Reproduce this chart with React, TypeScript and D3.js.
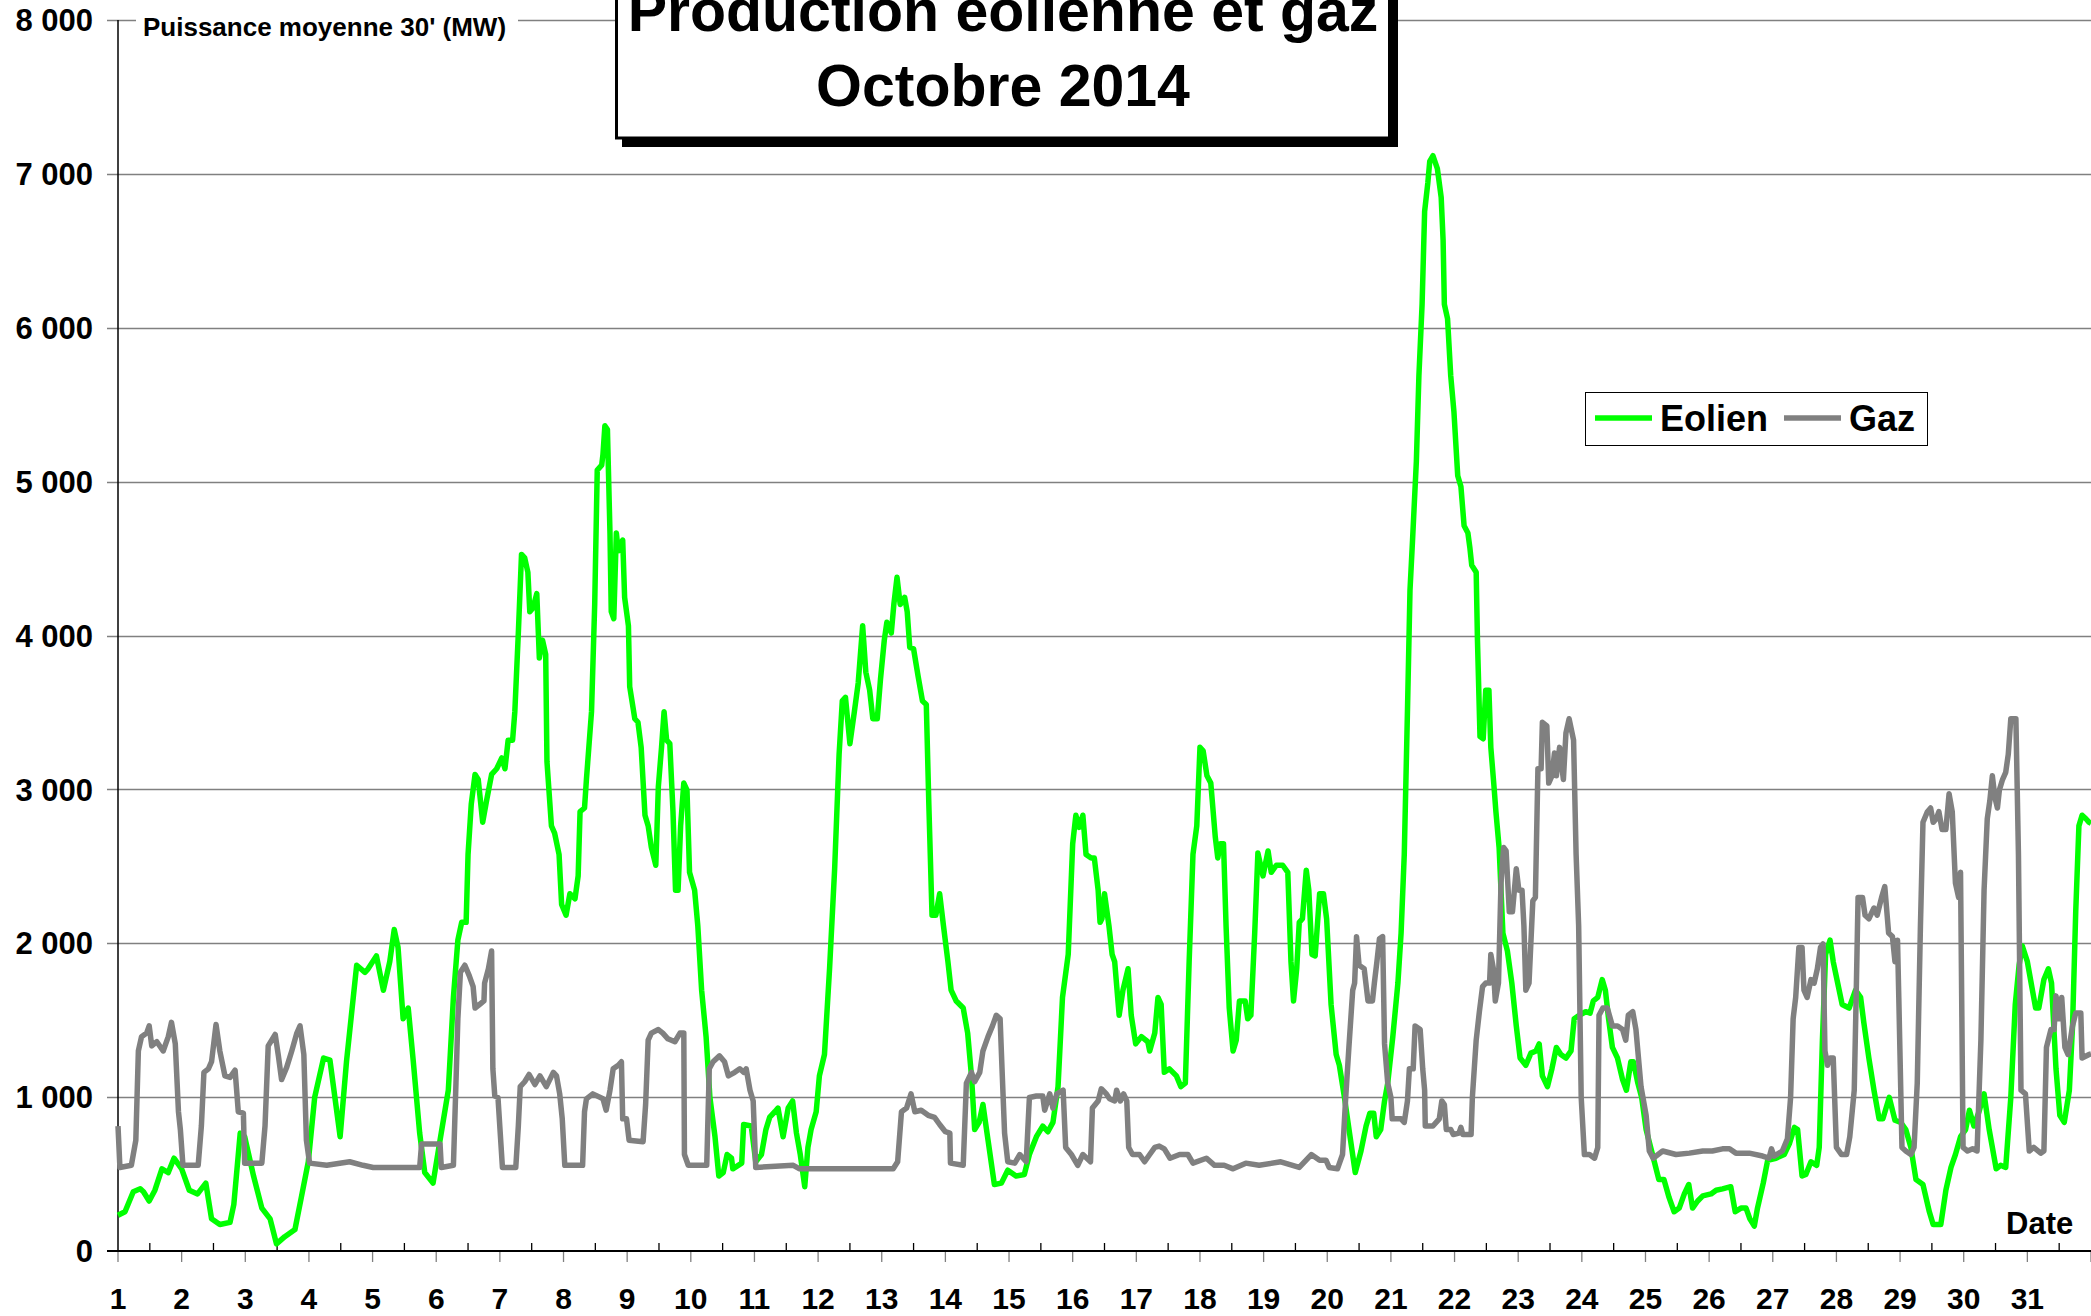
import React, { useEffect, useRef } from "react";
import * as d3 from "d3";

// time = days since 1 Oct 2014 00:00, value = MW (30' average)
const eolien: [number, number][] = [
  [0, 232], [0.11, 255], [0.24, 385], [0.35, 404], [0.4, 385], [0.49, 325], [0.58, 395], [0.69, 534], [0.79, 510], [0.88, 603],
  [1.0, 534], [1.12, 395], [1.25, 371], [1.38, 441], [1.47, 209], [1.6, 172], [1.76, 186], [1.82, 302], [1.92, 766], [1.99, 743],
  [2.13, 487], [2.26, 279], [2.39, 209], [2.49, 46], [2.62, 93], [2.78, 139], [2.88, 348], [2.99, 580], [3.09, 998], [3.23, 1254],
  [3.33, 1240], [3.49, 743], [3.59, 1230], [3.75, 1857], [3.88, 1811], [3.93, 1834], [4.06, 1918], [4.17, 1695], [4.27, 1880], [4.34, 2089],
  [4.4, 1973], [4.48, 1509], [4.56, 1579], [4.64, 1230], [4.74, 766], [4.82, 510], [4.95, 441], [5.06, 720], [5.19, 1045], [5.27, 1648],
  [5.34, 2020], [5.4, 2136], [5.47, 2136], [5.5, 2577], [5.55, 2902], [5.61, 3097], [5.66, 3064], [5.73, 2786], [5.79, 2925], [5.87, 3097],
  [5.95, 3134], [6.03, 3204], [6.08, 3134], [6.13, 3320], [6.2, 3320], [6.235, 3505], [6.29, 4016], [6.34, 4527], [6.39, 4504], [6.44, 4411],
  [6.47, 4155], [6.52, 4179], [6.58, 4272], [6.62, 3854], [6.67, 3970], [6.72, 3877], [6.74, 3180], [6.81, 2763], [6.86, 2716], [6.93, 2577],
  [6.97, 2252], [7.04, 2182], [7.1, 2322], [7.18, 2289], [7.23, 2438], [7.26, 2855], [7.33, 2879], [7.36, 3064], [7.44, 3505], [7.49, 4202],
  [7.53, 5075], [7.6, 5107], [7.62, 5177], [7.65, 5363], [7.69, 5339], [7.73, 4666], [7.75, 4155], [7.79, 4109], [7.83, 4666], [7.86, 4550],
  [7.93, 4620], [7.96, 4248], [8.02, 4063], [8.04, 3668], [8.12, 3459], [8.17, 3436], [8.22, 3273], [8.28, 2832], [8.33, 2763], [8.38, 2623],
  [8.45, 2507], [8.49, 3018], [8.54, 3273], [8.58, 3505], [8.62, 3320], [8.67, 3297], [8.72, 2855], [8.76, 2345], [8.8, 2345], [8.84, 2763],
  [8.89, 3041], [8.94, 2995], [8.98, 2461], [9.06, 2345], [9.11, 2113], [9.17, 1695], [9.24, 1393], [9.3, 998], [9.38, 743], [9.44, 487],
  [9.51, 510], [9.57, 627], [9.64, 603], [9.66, 534], [9.8, 571], [9.83, 822], [9.95, 812], [10.02, 580], [10.11, 627], [10.18, 789],
  [10.24, 870], [10.32, 905], [10.37, 929], [10.45, 743], [10.53, 929], [10.6, 975], [10.66, 766], [10.72, 627], [10.79, 418], [10.84, 673],
  [10.89, 789], [10.97, 905], [11.02, 1138], [11.1, 1277], [11.18, 1834], [11.26, 2484], [11.33, 3227], [11.38, 3575], [11.43, 3598], [11.5, 3297],
  [11.57, 3505], [11.63, 3691], [11.7, 4063], [11.75, 3761], [11.81, 3645], [11.86, 3459], [11.93, 3459], [11.98, 3714], [12.04, 3970], [12.08, 4086],
  [12.15, 4016], [12.19, 4202], [12.24, 4378], [12.29, 4202], [12.36, 4248], [12.4, 4155], [12.44, 3923], [12.5, 3914], [12.57, 3738], [12.64, 3575],
  [12.7, 3552], [12.74, 2902], [12.79, 2182], [12.85, 2182], [12.91, 2322], [12.97, 2113], [13.04, 1880], [13.09, 1695], [13.17, 1625], [13.28, 1579],
  [13.35, 1416], [13.41, 1138], [13.46, 789], [13.53, 836], [13.59, 952], [13.67, 720], [13.77, 432], [13.88, 441], [13.98, 525], [14.11, 487],
  [14.24, 497], [14.32, 627], [14.43, 743], [14.53, 812], [14.61, 775], [14.69, 836], [14.77, 1068], [14.84, 1648], [14.93, 1927], [15.0, 2646],
  [15.05, 2832], [15.1, 2753], [15.16, 2832], [15.21, 2577], [15.29, 2554], [15.34, 2554], [15.4, 2345], [15.43, 2136], [15.46, 2159], [15.5, 2322],
  [15.57, 2113], [15.62, 1927], [15.66, 1880], [15.73, 1532], [15.79, 1695], [15.87, 1834], [15.92, 1532], [15.99, 1346], [16.08, 1393], [16.18, 1360],
  [16.21, 1300], [16.29, 1416], [16.34, 1648], [16.39, 1602], [16.44, 1161], [16.52, 1184], [16.63, 1138], [16.7, 1068], [16.77, 1091], [16.83, 1880],
  [16.89, 2577], [16.95, 2763], [17.0, 3273], [17.05, 3250], [17.11, 3088], [17.17, 3041], [17.24, 2693], [17.28, 2554], [17.32, 2646], [17.37, 2646],
  [17.41, 2113], [17.46, 1579], [17.52, 1300], [17.57, 1370], [17.62, 1625], [17.71, 1625], [17.75, 1509], [17.8, 1532], [17.86, 2066], [17.91, 2586],
  [17.99, 2438], [18.07, 2600], [18.12, 2461], [18.2, 2507], [18.3, 2507], [18.38, 2461], [18.43, 1880], [18.47, 1625], [18.52, 1834], [18.56, 2136],
  [18.61, 2159], [18.67, 2475], [18.71, 2345], [18.76, 1927], [18.81, 1918], [18.88, 2322], [18.94, 2322], [18.99, 2159], [19.06, 1602], [19.14, 1277],
  [19.19, 1207], [19.27, 998], [19.35, 766], [19.44, 510], [19.53, 650], [19.61, 812], [19.67, 896], [19.73, 896], [19.77, 743], [19.84, 789],
  [19.9, 975], [19.95, 1091], [20.03, 1393], [20.11, 1741], [20.16, 2066], [20.21, 2577], [20.26, 3505], [20.3, 4295], [20.34, 4620], [20.4, 5131],
  [20.44, 5688], [20.49, 6152], [20.53, 6756], [20.58, 6941], [20.61, 7081], [20.66, 7118], [20.73, 7034], [20.79, 6848], [20.82, 6570], [20.84, 6152],
  [20.89, 6059], [20.94, 5688], [20.99, 5456], [21.05, 5038], [21.1, 4968], [21.15, 4713], [21.21, 4666], [21.24, 4573], [21.27, 4457], [21.34, 4411],
  [21.36, 3970], [21.4, 3343], [21.45, 3329], [21.49, 3645], [21.54, 3645], [21.57, 3273], [21.62, 3018], [21.65, 2855], [21.7, 2623], [21.76, 2066],
  [21.83, 1950], [21.9, 1741], [21.97, 1463], [22.03, 1254], [22.12, 1207], [22.2, 1286], [22.28, 1300], [22.33, 1346], [22.38, 1138], [22.46, 1068],
  [22.53, 1184], [22.6, 1323], [22.67, 1277], [22.75, 1254], [22.83, 1300], [22.88, 1509], [22.96, 1532], [23.06, 1555], [23.13, 1546], [23.18, 1625],
  [23.25, 1648], [23.32, 1764], [23.37, 1695], [23.42, 1509], [23.48, 1323], [23.56, 1254], [23.64, 1114], [23.7, 1045], [23.77, 1230], [23.81, 1230],
  [23.88, 1091], [23.94, 998], [24.01, 789], [24.11, 627], [24.21, 464], [24.29, 464], [24.37, 348], [24.45, 255], [24.53, 279], [24.61, 371],
  [24.68, 432], [24.74, 279], [24.82, 325], [24.9, 358], [25.03, 371], [25.11, 395], [25.21, 404], [25.34, 418], [25.41, 255], [25.5, 279],
  [25.58, 279], [25.64, 209], [25.71, 162], [25.76, 279], [25.85, 441], [25.92, 590], [26.05, 603], [26.18, 627], [26.26, 696], [26.34, 803],
  [26.39, 789], [26.46, 487], [26.52, 497], [26.6, 580], [26.69, 557], [26.73, 673], [26.78, 1370], [26.83, 1927], [26.9, 2020], [26.95, 1880],
  [27.02, 1741], [27.09, 1602], [27.2, 1579], [27.3, 1695], [27.38, 1648], [27.43, 1486], [27.51, 1254], [27.59, 1045], [27.67, 859], [27.73, 859],
  [27.83, 998], [27.92, 850], [28.01, 836], [28.09, 789], [28.17, 673], [28.25, 464], [28.36, 432], [28.46, 255], [28.52, 172], [28.64, 172],
  [28.72, 395], [28.8, 543], [28.87, 627], [28.95, 743], [29.03, 789], [29.09, 915], [29.16, 812], [29.24, 905], [29.32, 1021], [29.4, 789],
  [29.51, 534], [29.58, 557], [29.66, 543], [29.74, 998], [29.81, 1602], [29.87, 1857], [29.92, 1983], [30.0, 1880], [30.07, 1718], [30.13, 1579],
  [30.18, 1579], [30.26, 1764], [30.33, 1834], [30.38, 1741], [30.45, 1184], [30.51, 882], [30.58, 836], [30.66, 1045], [30.71, 1463], [30.76, 2205],
  [30.81, 2763], [30.86, 2832], [30.92, 2809], [30.97, 2786], [31.0, 2780],
];

const gaz: [number, number][] = [
  [0, 812], [0.03, 543], [0.21, 557], [0.28, 720], [0.32, 1300], [0.37, 1393], [0.45, 1416], [0.49, 1463], [0.53, 1333], [0.61, 1360],
  [0.71, 1300], [0.79, 1393], [0.84, 1486], [0.9, 1347], [0.95, 905], [0.98, 789], [1.02, 557], [1.26, 557], [1.31, 812], [1.35, 1161],
  [1.42, 1184], [1.47, 1230], [1.54, 1472], [1.6, 1300], [1.68, 1138], [1.76, 1128], [1.84, 1175], [1.89, 905], [1.97, 896], [1.99, 571],
  [2.26, 571], [2.31, 812], [2.36, 1333], [2.47, 1407], [2.52, 1268], [2.57, 1114], [2.65, 1193], [2.73, 1300], [2.81, 1416], [2.86, 1463],
  [2.92, 1277], [2.96, 720], [3.01, 571], [3.28, 557], [3.64, 580], [3.85, 557], [4.01, 543], [4.74, 543], [4.77, 696], [5.06, 696],
  [5.08, 543], [5.27, 557], [5.31, 1091], [5.34, 1509], [5.38, 1811], [5.45, 1857], [5.52, 1788], [5.58, 1718], [5.61, 1579], [5.68, 1602],
  [5.75, 1625], [5.76, 1741], [5.82, 1834], [5.87, 1950], [5.89, 1184], [5.92, 1007], [5.97, 998], [6.04, 543], [6.25, 543], [6.29, 812],
  [6.32, 1068], [6.39, 1100], [6.46, 1147], [6.55, 1082], [6.63, 1138], [6.73, 1068], [6.84, 1161], [6.89, 1138], [6.94, 1021], [6.98, 859],
  [7.02, 557], [7.3, 557], [7.33, 905], [7.36, 989], [7.46, 1021], [7.62, 989], [7.67, 915], [7.73, 1045], [7.78, 1184], [7.86, 1207],
  [7.91, 1230], [7.93, 859], [7.99, 859], [8.03, 720], [8.25, 710], [8.29, 952], [8.33, 1370], [8.38, 1416], [8.49, 1439], [8.56, 1416],
  [8.64, 1379], [8.75, 1360], [8.83, 1416], [8.89, 1416], [8.9, 627], [8.96, 557], [9.25, 557], [9.29, 1184], [9.35, 1230], [9.45, 1268],
  [9.53, 1230], [9.59, 1138], [9.69, 1161], [9.77, 1184], [9.83, 1161], [9.87, 1184], [9.93, 1045], [9.98, 975], [10.02, 543], [10.61, 557],
  [10.71, 534], [12.18, 534], [12.25, 580], [12.31, 905], [12.39, 929], [12.46, 1021], [12.52, 905], [12.62, 915], [12.73, 882], [12.83, 868],
  [12.91, 822], [13.0, 775], [13.07, 766], [13.08, 571], [13.28, 557], [13.33, 1091], [13.41, 1161], [13.46, 1100], [13.54, 1161], [13.59, 1300],
  [13.67, 1393], [13.74, 1463], [13.8, 1532], [13.86, 1509], [13.89, 1184], [13.93, 766], [13.98, 580], [14.09, 571], [14.17, 627], [14.27, 580],
  [14.32, 998], [14.43, 1007], [14.53, 1007], [14.56, 915], [14.64, 1021], [14.69, 929], [14.75, 1021], [14.85, 1045], [14.89, 673], [14.98, 627],
  [15.08, 557], [15.16, 627], [15.28, 580], [15.31, 929], [15.4, 975], [15.45, 1054], [15.53, 1021], [15.58, 989], [15.66, 975], [15.69, 1045],
  [15.75, 975], [15.8, 1021], [15.85, 975], [15.88, 673], [15.94, 627], [16.05, 627], [16.13, 580], [16.21, 627], [16.29, 673], [16.36, 682],
  [16.44, 664], [16.53, 603], [16.68, 627], [16.81, 627], [16.89, 571], [17.1, 603], [17.23, 557], [17.38, 557], [17.52, 534], [17.72, 571],
  [17.93, 557], [18.27, 580], [18.56, 543], [18.75, 627], [18.88, 590], [18.98, 590], [19.03, 543], [19.16, 534], [19.24, 627], [19.29, 998],
  [19.34, 1323], [19.4, 1695], [19.43, 1741], [19.46, 2043], [19.5, 1857], [19.58, 1834], [19.64, 1625], [19.71, 1625], [19.74, 1741], [19.78, 1880],
  [19.82, 2029], [19.87, 2043], [19.9, 1346], [19.95, 1091], [20.0, 998], [20.02, 859], [20.16, 859], [20.21, 836], [20.26, 975], [20.29, 1184],
  [20.35, 1184], [20.38, 1463], [20.46, 1439], [20.5, 1184], [20.53, 1045], [20.54, 812], [20.66, 812], [20.76, 859], [20.8, 975], [20.84, 952],
  [20.87, 789], [20.94, 789], [20.98, 757], [21.07, 766], [21.1, 803], [21.13, 757], [21.26, 757], [21.28, 998], [21.34, 1370], [21.39, 1555],
  [21.44, 1718], [21.49, 1741], [21.55, 1741], [21.57, 1927], [21.61, 1834], [21.64, 1625], [21.69, 1741], [21.73, 2391], [21.77, 2623], [21.81, 2600],
  [21.86, 2205], [21.91, 2205], [21.97, 2484], [22.01, 2345], [22.06, 2345], [22.09, 2113], [22.12, 1695], [22.17, 1741], [22.23, 2275], [22.27, 2298],
  [22.31, 3134], [22.36, 3134], [22.38, 3436], [22.45, 3413], [22.48, 3041], [22.53, 3088], [22.57, 3236], [22.6, 3088], [22.65, 3273], [22.71, 3064],
  [22.75, 3366], [22.8, 3459], [22.87, 3320], [22.91, 2577], [22.95, 2113], [22.99, 998], [23.04, 627], [23.12, 627], [23.2, 603], [23.25, 673],
  [23.27, 1532], [23.33, 1579], [23.4, 1579], [23.48, 1463], [23.56, 1463], [23.64, 1439], [23.69, 1370], [23.73, 1532], [23.8, 1555], [23.85, 1439],
  [23.93, 1068], [24.01, 882], [24.06, 650], [24.12, 603], [24.27, 650], [24.48, 627], [24.69, 636], [24.9, 650], [25.05, 650], [25.21, 664],
  [25.32, 664], [25.42, 636], [25.63, 636], [25.84, 617], [25.94, 603], [25.98, 664], [26.02, 617], [26.15, 650], [26.23, 729], [26.28, 998],
  [26.32, 1509], [26.36, 1648], [26.41, 1973], [26.46, 1973], [26.49, 1695], [26.54, 1648], [26.6, 1764], [26.65, 1741], [26.7, 1834], [26.75, 1973],
  [26.79, 1996], [26.82, 1300], [26.86, 1207], [26.9, 1254], [26.95, 1254], [27.0, 673], [27.08, 627], [27.16, 627], [27.21, 743], [27.28, 1045],
  [27.31, 1648], [27.34, 2298], [27.41, 2298], [27.45, 2182], [27.51, 2159], [27.59, 2229], [27.64, 2182], [27.71, 2298], [27.76, 2368], [27.82, 2066],
  [27.88, 2043], [27.92, 1880], [27.96, 2020], [27.98, 1648], [28.03, 673], [28.09, 650], [28.17, 627], [28.22, 673], [28.27, 1091], [28.32, 2113],
  [28.36, 2786], [28.43, 2855], [28.48, 2879], [28.52, 2786], [28.57, 2809], [28.61, 2855], [28.66, 2739], [28.72, 2739], [28.77, 2972], [28.82, 2855],
  [28.87, 2391], [28.92, 2298], [28.95, 2461], [28.99, 673], [29.06, 650], [29.14, 664], [29.21, 650], [29.27, 1370], [29.32, 2345], [29.37, 2809],
  [29.41, 2925], [29.45, 3088], [29.49, 2948], [29.53, 2879], [29.56, 2995], [29.61, 3064], [29.66, 3111], [29.7, 3227], [29.74, 3459], [29.82, 3459],
  [29.86, 2577], [29.9, 1045], [29.97, 1021], [30.03, 650], [30.1, 673], [30.21, 636], [30.26, 650], [30.3, 1323], [30.37, 1439], [30.42, 1439],
  [30.45, 1658], [30.5, 1509], [30.54, 1648], [30.59, 1323], [30.64, 1277], [30.71, 1463], [30.76, 1546], [30.84, 1546], [30.86, 1254], [30.97, 1277],
  [31.0, 1280],
];

const yTicks = [0, 1000, 2000, 3000, 4000, 5000, 6000, 7000, 8000];
const dayLabels = d3.range(1, 32);
const seriesNames = ["Eolien", "Gaz"];
const seriesColors = ["#00ff00", "#808080"];
const titleLines = ["Production éolienne et gaz", "Octobre 2014"];

const W = 2091;
const H = 1316;
const FONT = "'Liberation Sans', Arial, sans-serif";

const App = () => {
  const svgRef = useRef<SVGSVGElement>(null);

  useEffect(() => {
    const svg = d3.select(svgRef.current);
    svg.selectAll("*").remove();

    const start = Date.UTC(2014, 9, 1);
    const toDate = (t: number) => new Date(start + t * 864e5);

    const x = d3.scaleUtc().domain([toDate(0), toDate(31)]).range([118, W]);
    const y = d3.scaleLinear().domain([0, 8000]).range([1251, 20]);

    // grid
    svg
      .append("g")
      .selectAll("line")
      .data(yTicks.filter((d) => d > 0))
      .join("line")
      .attr("x1", 107)
      .attr("x2", W)
      .attr("y1", (d) => Math.round(y(d)) + 0.5)
      .attr("y2", (d) => Math.round(y(d)) + 0.5)
      .attr("stroke", "#808080")
      .attr("stroke-width", 1.3);

    // y labels
    svg
      .append("g")
      .selectAll("text")
      .data(yTicks)
      .join("text")
      .attr("x", 93)
      .attr("y", (d) => y(d))
      .attr("dy", "0.36em")
      .attr("text-anchor", "end")
      .attr("font-family", FONT)
      .attr("font-weight", "bold")
      .attr("font-size", 31)
      .text((d) => d3.format(",")(d).replace(/,/g, " "));

    // x ticks: day starts below, noons above
    const days = d3.range(0, 32);
    svg
      .append("g")
      .selectAll("line")
      .data(days)
      .join("line")
      .attr("x1", (d) => x(toDate(d)))
      .attr("x2", (d) => x(toDate(d)))
      .attr("y1", 1251)
      .attr("y2", 1262)
      .attr("stroke", "#808080")
      .attr("stroke-width", 1.3);
    svg
      .append("g")
      .selectAll("line")
      .data(d3.range(0.5, 31, 1))
      .join("line")
      .attr("x1", (d) => x(toDate(d)))
      .attr("x2", (d) => x(toDate(d)))
      .attr("y1", 1243)
      .attr("y2", 1251)
      .attr("stroke", "#000")
      .attr("stroke-width", 1.3);

    svg
      .append("g")
      .selectAll("text")
      .data(dayLabels)
      .join("text")
      .attr("x", (d) => x(toDate(d - 1)))
      .attr("y", 1309)
      .attr("text-anchor", "middle")
      .attr("font-family", FONT)
      .attr("font-weight", "bold")
      .attr("font-size", 30)
      .text((d) => d);

    // axes lines
    svg.append("line").attr("x1", 118).attr("x2", 118).attr("y1", 20).attr("y2", 1251)
      .attr("stroke", "#000").attr("stroke-width", 1.5);
    svg.append("line").attr("x1", 107).attr("x2", W).attr("y1", 1251).attr("y2", 1251)
      .attr("stroke", "#000").attr("stroke-width", 2);

    // series
    const line = d3
      .line<[number, number]>()
      .x((d) => x(toDate(d[0])))
      .y((d) => y(d[1]));
    [eolien, gaz].forEach((data, i) => {
      svg
        .append("path")
        .datum(data)
        .attr("fill", "none")
        .attr("stroke", seriesColors[i])
        .attr("stroke-width", 5.5)
        .attr("stroke-linejoin", "round")
        .attr("d", line);
    });

    // y axis title
    svg.append("rect").attr("x", 136).attr("y", 11).attr("width", 382).attr("height", 32).attr("fill", "#fff");
    svg
      .append("text")
      .attr("x", 143)
      .attr("y", 36)
      .attr("font-family", FONT)
      .attr("font-weight", "bold")
      .attr("font-size", 26)
      .text("Puissance moyenne 30' (MW)");

    // x axis title
    svg
      .append("text")
      .attr("x", 2006)
      .attr("y", 1234)
      .attr("font-family", FONT)
      .attr("font-weight", "bold")
      .attr("font-size", 31)
      .text("Date");

    // title box
    svg.append("rect").attr("x", 622).attr("y", -20).attr("width", 776).attr("height", 167).attr("fill", "#000");
    svg
      .append("rect")
      .attr("x", 616.5)
      .attr("y", -20)
      .attr("width", 773)
      .attr("height", 158)
      .attr("fill", "#fff")
      .attr("stroke", "#000")
      .attr("stroke-width", 3);
    svg
      .append("g")
      .selectAll("text")
      .data(titleLines)
      .join("text")
      .attr("x", 1003)
      .attr("y", (d, i) => 31 + i * 75)
      .attr("text-anchor", "middle")
      .attr("font-family", FONT)
      .attr("font-weight", "bold")
      .attr("font-size", 59)
      .text((d) => d);

    // legend
    const lg = svg.append("g").attr("transform", "translate(1585,392)");
    lg.append("rect").attr("x", 0.5).attr("y", 0.5).attr("width", 342).attr("height", 53)
      .attr("fill", "#fff").attr("stroke", "#000").attr("stroke-width", 1);
    const items = [
      { lx: 10, tx: 75 },
      { lx: 199, tx: 264 },
    ];
    seriesNames.forEach((name, i) => {
      lg.append("line").attr("x1", items[i].lx).attr("x2", items[i].lx + 57).attr("y1", 26).attr("y2", 26)
        .attr("stroke", seriesColors[i]).attr("stroke-width", 5.5);
      lg.append("text")
        .attr("x", items[i].tx)
        .attr("y", 39)
        .attr("font-family", FONT)
        .attr("font-weight", "bold")
        .attr("font-size", 36)
        .text(name);
    });
  }, []);

  return (
    <div style={{ position: "absolute", left: 0, top: 0 }}>
      <svg ref={svgRef} width={W} height={H} style={{ display: "block", background: "#fff" }} />
    </div>
  );
};

export default App;
